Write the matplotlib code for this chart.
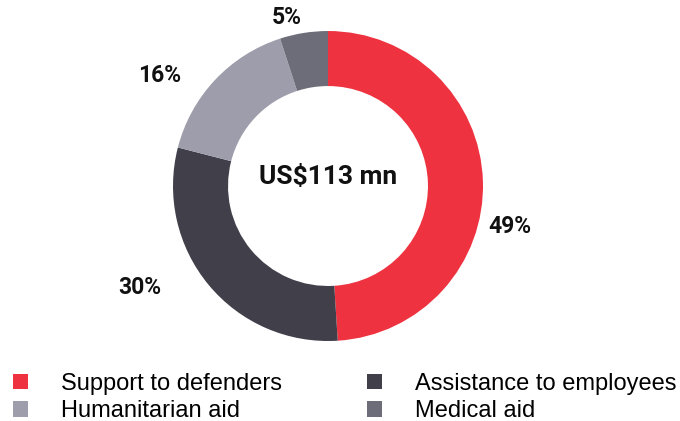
import matplotlib.pyplot as plt
from matplotlib.patches import Patch

categories = ["Support to defenders", "Assistance to employees", "Humanitarian aid", "Medical aid"]
shares = [49, 30, 16, 5]
colours = ["#EE323F", "#403F4A", "#9E9DAB", "#6D6D7A"]
total_label = "US$113 mn"

# label spots (in pie radius units)
label_xy = [(1.174, -0.258), (-1.213, -0.652), (-1.084, 0.716), (-0.265, 1.09)]

plt.rcParams['font.family'] = ['Roboto', 'DejaVu Sans']

fig = plt.figure(figsize=(6.8, 4.21), dpi=100)
ax = fig.add_axes([0.2544, 0.19, 0.4559, 0.7363])

wedges, _ = ax.pie(shares, colors=colours, startangle=90, counterclock=False,
                   radius=1, wedgeprops=dict(width=0.355, linewidth=0))
ax.set_xlim(-1, 1)
ax.set_ylim(-1, 1)
ax.set_aspect('equal')
ax.axis('off')

for (x, y), v in zip(label_xy, shares):
    ax.text(x, y, f"{v}%", ha='center', va='center', fontsize=16.5,
            fontweight='bold', color='#111111', clip_on=False)

ax.text(0, 0.06, total_label, ha='center', va='center', fontsize=19,
        fontweight='bold', color='#111111')

order = [0, 2, 1, 3]
handles = [Patch(facecolor=colours[i], edgecolor='none') for i in order]
labels = [categories[i] for i in order]
fig.legend(handles, labels, ncol=2, loc='upper left', bbox_to_anchor=(0.019, 0.1145),
           frameon=False, borderpad=0, borderaxespad=0, handlelength=0.64,
           handleheight=0.64, handletextpad=1.4, columnspacing=3.6,
           labelspacing=0.24, prop={'family': 'Liberation Sans', 'size': 17})

fig.savefig("out.png", dpi=100)
